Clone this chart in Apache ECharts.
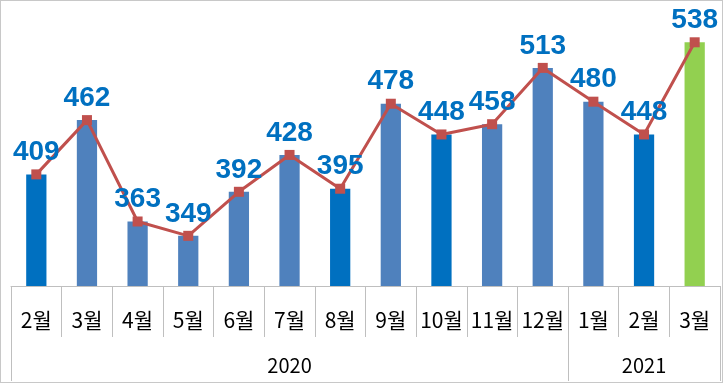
<!DOCTYPE html>
<html>
<head>
<meta charset="utf-8">
<script src="https://cdn.jsdelivr.net/npm/echarts@6/dist/echarts.min.js"></script>
<style>
html,body{margin:0;padding:0;background:#fff;}
#chart{width:723px;height:383px;box-sizing:border-box;border:1px solid #C8C8C8;}
</style>
</head>
<body>
<div id="chart"></div>
<script>
// Data
const months = ['2월','3월','4월','5월','6월','7월','8월','9월','10월','11월','12월','1월','2월','3월'];
const values = [409, 462, 363, 349, 392, 428, 395, 478, 448, 458, 513, 480, 448, 538];
const years = ['2020', '2021'];
const yearSpans = [11, 3];
// Style groups (which bars are emphasised)
const darkBars = [0, 6, 8, 12];
const greenBars = [13];

const COLOR_DARK = '#0070C0', COLOR_LIGHT = '#4F81BD', COLOR_GREEN = '#92D050';

const boundaries = [0];
yearSpans.forEach(s => boundaries.push(boundaries[boundaries.length - 1] + s));
const yearMids = [];
for (let i = 0; i < years.length; i++) yearMids.push((boundaries[i] + boundaries[i + 1]) / 2);

const barData = values.map((v, i) => ({
  value: v,
  itemStyle: { color: greenBars.includes(i) ? COLOR_GREEN : (darkBars.includes(i) ? COLOR_DARK : COLOR_LIGHT) }
}));

const chart = echarts.init(document.getElementById('chart'));
chart.setOption({
  animation: false,
  grid: { left: 10, right: 2, top: 29, bottom: 96 },
  xAxis: [{
    type: 'category',
    data: months,
    boundaryGap: true,
    axisLine: { show: true, lineStyle: { color: '#BFBFBF', width: 1 } },
    axisTick: { show: true, length: 51, interval: 0, lineStyle: { color: '#BFBFBF' } },
    axisLabel: { interval: 0, margin: 24, fontSize: 21, lineHeight: 20, color: '#000', fontFamily: 'Noto Sans CJK KR' }
  }, {
    type: 'value',
    position: 'bottom',
    min: 0, max: months.length,
    axisLine: { show: false },
    splitLine: { show: false },
    axisTick: { show: true, length: 95, customValues: boundaries, lineStyle: { color: '#BFBFBF' } },
    axisLabel: {
      show: true, margin: 69, fontSize: 20, lineHeight: 20, color: '#000', fontFamily: 'Noto Sans CJK KR',
      customValues: yearMids,
      formatter: v => years[yearMids.indexOf(v)]
    }
  }],
  yAxis: { type: 'value', show: false, min: 300, max: 550, splitLine: { show: false } },
  series: [{
    type: 'bar',
    data: barData,
    barWidth: '40%'
  }, {
    type: 'line',
    data: values,
    symbol: 'rect',
    symbolSize: 10,
    lineStyle: { color: '#C0504D', width: 3 },
    itemStyle: { color: '#C0504D' },
    label: {
      show: true, position: 'top', distance: 3,
      fontSize: 28, fontWeight: 'bold', color: '#0070C0', fontFamily: 'Liberation Sans'
    },
    z: 3
  }]
});
</script>
</body>
</html>
